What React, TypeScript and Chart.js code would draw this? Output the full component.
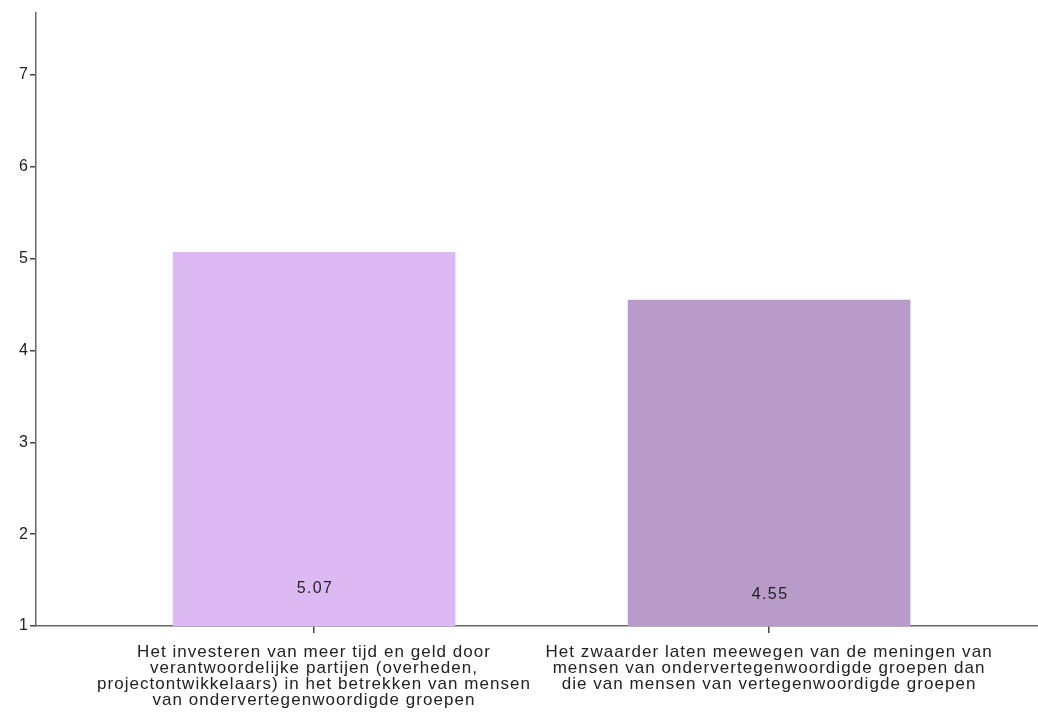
import React, { useEffect, useRef } from "react";
import { Chart, registerables } from "chart.js";

Chart.register(...registerables);

const categories: string[][] = [
  [
    "Het investeren van meer tijd en geld door",
    "verantwoordelijke partijen (overheden,",
    "projectontwikkelaars) in het betrekken van mensen",
    "van ondervertegenwoordigde groepen",
  ],
  [
    "Het zwaarder laten meewegen van de meningen van",
    "mensen van ondervertegenwoordigde groepen dan",
    "die van mensen van vertegenwoordigde groepen",
  ],
];
const categoryPositions = [1, 2];
const values = [5.07, 4.55];
const valueLabels = ["5.07", "4.55"];
const valueLabelLevels = [1.41, 1.34];
const barColors = ["#dcb9f2", "#b89bc8"];
const yTicks = [1, 2, 3, 4, 5, 6, 7];

const FONT = "'Liberation Sans', Arial, sans-serif";

const spacingPlugin = {
  id: "spacing",
  beforeDraw(chart: any) {
    (chart.ctx as any).letterSpacing = "1.05px";
  },
};

const valueLabelPlugin = {
  id: "valueLabels",
  afterDatasetsDraw(chart: any) {
    const ctx = chart.ctx;
    const meta = chart.getDatasetMeta(0);
    const yScale = chart.scales.y;
    ctx.save();
    ctx.font = `16px ${FONT}`;
    (ctx as any).letterSpacing = "1.4px";
    ctx.fillStyle = "#222";
    ctx.textAlign = "center";
    ctx.textBaseline = "middle";
    meta.data.forEach((bar: any, i: number) => {
      ctx.fillText(valueLabels[i], bar.x + 1, yScale.getPixelForValue(valueLabelLevels[i]));
    });
    ctx.restore();
  },
};

export default function App() {
  const ref = useRef<HTMLCanvasElement>(null);
  useEffect(() => {
    document.body.style.margin = "0";
    const chart = new Chart(ref.current!, {
      type: "bar",
      data: {
        datasets: [
          {
            data: categoryPositions.map((x, i) => ({ x, y: values[i] })),
            backgroundColor: barColors,
            borderWidth: 0,
            barThickness: 282,
          },
        ],
      },
      options: {
        animation: false,
        responsive: false,
        maintainAspectRatio: false,
        layout: { padding: { top: 13, right: 0, left: 0, bottom: 0 } },
        plugins: { legend: { display: false }, tooltip: { enabled: false } },
        scales: {
          x: {
            type: "linear",
            offset: false,
            min: 0.389,
            max: 2.591,
            afterBuildTicks: (s: any) => {
              s.ticks = categoryPositions.map((v) => ({ value: v }));
            },
            afterFit: (s: any) => {
              s.height = 92;
            },
            ticks: {
              callback: (v: any) => {
                const idx = categoryPositions.indexOf(Number(v));
                return idx >= 0 ? categories[idx] : "";
              },
              font: { family: FONT, size: 17, lineHeight: 16 / 17 },
              color: "#222",
              padding: 11,
              maxRotation: 0,
              autoSkip: false,
            },
            grid: { display: true, offset: false, drawOnChartArea: false, drawTicks: true, tickLength: 7, color: "#444", lineWidth: 1.5 },
            border: { display: true, color: "#666", width: 1.5 },
          },
          y: {
            type: "linear",
            min: 1,
            max: 7.675,
            afterBuildTicks: (s: any) => {
              s.ticks = yTicks.map((v) => ({ value: v }));
            },
            afterFit: (s: any) => {
              s.width = 36;
            },
            ticks: {
              font: { family: FONT, size: 16 },
              color: "#222",
              padding: 1,
            },
            grid: { display: true, drawOnChartArea: false, drawTicks: true, tickLength: 6, color: "#444", lineWidth: 1.5 },
            border: { display: true, color: "#666", width: 1.5 },
          },
        },
      },
      plugins: [spacingPlugin, valueLabelPlugin],
    } as any);
    return () => chart.destroy();
  }, []);
  return <canvas ref={ref} width={1038} height={718} style={{ display: "block" }} />;
}
